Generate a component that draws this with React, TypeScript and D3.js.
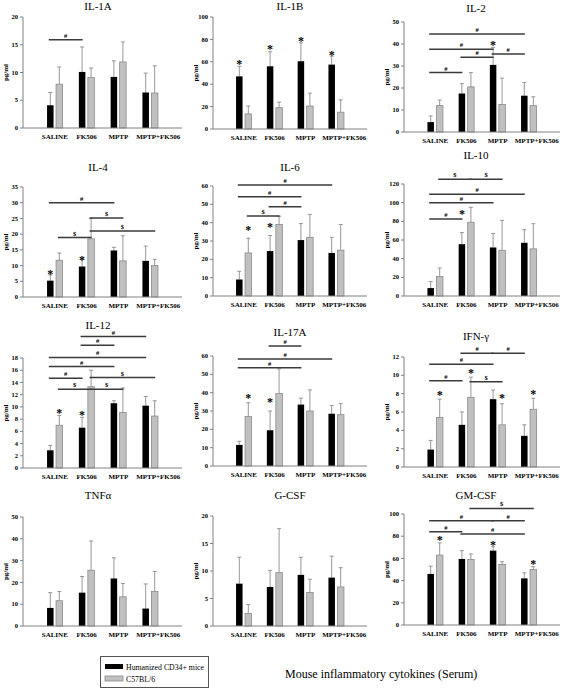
import React from 'react';
import * as d3 from 'd3';

const categories = ['SALINE', 'FK506', 'MPTP', 'MPTP+FK506'];
const seriesNames = ['Humanized CD34+ mice', 'C57BL/6'];

// IL-1A
const il1aHuman = [4.1, 10.1, 9.2, 6.4];
const il1aHumanUpper = [6.4, 14.6, 12.1, 9.9];
const il1aC57 = [7.9, 9.1, 11.9, 6.3];
const il1aC57Upper = [11.0, 10.8, 15.5, 11.2];
const il1aSig = [{ from: 0, to: 1, y: 15.9, sym: '#' }];
const il1aStars: { cat: number; s: number; y: number }[] = [];

// IL-1B
const il1bHuman = [47, 56, 60.5, 57.5];
const il1bHumanUpper = [56, 69, 77, 65];
const il1bC57 = [13.5, 19, 20.5, 15];
const il1bC57Upper = [20.5, 24, 32, 26];
const il1bSig: { from: number; to: number; y: number; sym: string }[] = [];
const il1bStars = [
  { cat: 0, s: 0, y: 60.4 }, { cat: 1, s: 0, y: 73.8 }, { cat: 2, s: 0, y: 80.4 }, { cat: 3, s: 0, y: 68.5 },
];

// IL-2
const il2Human = [4.5, 17.5, 30.5, 16.5];
const il2HumanUpper = [7.3, 22, 38.5, 22.5];
const il2C57 = [12, 20.5, 12.5, 12];
const il2C57Upper = [14.5, 27, 24.5, 16];
const il2Sig = [
  { from: 0, to: 3, y: 44.5, sym: '#' }, { from: 0, to: 2, y: 37.6, sym: '#' },
  { from: 1, to: 2, y: 34, sym: '#' }, { from: 2, to: 3, y: 35.5, sym: '#' },
  { from: 0, to: 1, y: 27, sym: '#' },
];
const il2Stars = [{ cat: 2, s: 0, y: 40.9 }];

// IL-4
const il4Human = [5.2, 9.7, 14.8, 11.5];
const il4HumanUpper = [7, 12, 15.8, 16.2];
const il4C57 = [11.7, 18.5, 11.5, 10];
const il4C57Upper = [14, 25, 19.5, 12];
const il4Sig = [
  { from: 0, to: 2, y: 30, sym: '#' }, { from: 0, to: 1, y: 18.9, sym: '$' },
  { from: 1, to: 2, y: 25.1, sym: '$' }, { from: 1, to: 3, y: 21, sym: '$' },
];
const il4Stars = [{ cat: 0, s: 0, y: 8 }, { cat: 1, s: 0, y: 12.5 }];

// IL-6
const il6Human = [9, 24.5, 30.5, 23.5];
const il6HumanUpper = [13.5, 33, 39.5, 32];
const il6C57 = [23.5, 39, 32, 25];
const il6C57Upper = [31.5, 43.5, 44.5, 39];
const il6Sig = [
  { from: 0, to: 3, y: 60.5, sym: '#' }, { from: 0, to: 2, y: 54.2, sym: '#' },
  { from: 1, to: 2, y: 48.7, sym: '#' }, { from: 0, to: 1, y: 43.6, sym: '$' },
];
const il6Stars = [{ cat: 0, s: 1, y: 37.3 }, { cat: 1, s: 0, y: 39.1 }];

// IL-10
const il10Human = [8.5, 55.5, 52, 57];
const il10HumanUpper = [15.5, 68, 67, 71];
const il10C57 = [21, 79, 49, 50.5];
const il10C57Upper = [30, 95, 81, 77.5];
const il10Sig = [
  { from: 0, to: 3, y: 108.9, sym: '#' }, { from: 0, to: 2, y: 100, sym: '#' },
  { from: 0, to: 1, y: 82.5, sym: '#' }, { from: 0, to: 1, y: 125, sym: '$' },
  { from: 1, to: 2, y: 125, sym: '$' },
];
const il10Stars = [{ cat: 1, s: 0, y: 90.4 }];

// IL-12
const il12Human = [2.9, 6.6, 10.6, 10.2];
const il12HumanUpper = [3.7, 8.3, 11, 11.7];
const il12C57 = [7, 13.3, 9.1, 8.5];
const il12C57Upper = [8.6, 16, 13.1, 11];
const il12Sig = [
  { from: 1, to: 3, y: 21.5, sym: '#' }, { from: 1, to: 2, y: 20.1, sym: '#' },
  { from: 0, to: 3, y: 18.1, sym: '#' }, { from: 0, to: 2, y: 16.6, sym: '#' },
  { from: 0, to: 1, y: 14.7, sym: '#' }, { from: 0, to: 1, y: 12.9, sym: '$' },
  { from: 1, to: 2, y: 12.9, sym: '$' }, { from: 1, to: 3, y: 14.8, sym: '$' },
];
const il12Stars = [{ cat: 0, s: 1, y: 9.4 }, { cat: 1, s: 0, y: 9.1 }];

// IL-17A
const il17aHuman = [11.5, 19.5, 33.5, 28.5];
const il17aHumanUpper = [13.5, 30, 37, 33];
const il17aC57 = [27, 39.5, 30, 28];
const il17aC57Upper = [34.5, 53, 41.5, 34];
const il17aSig = [
  { from: 1, to: 2, y: 65.5, sym: '#' }, { from: 0, to: 3, y: 58.4, sym: '#' },
  { from: 0, to: 2, y: 53.6, sym: '#' },
];
const il17aStars = [{ cat: 0, s: 1, y: 38.7 }, { cat: 1, s: 0, y: 36.4 }];

// IFN-γ
const ifngHuman = [1.9, 4.6, 7.4, 3.4];
const ifngHumanUpper = [2.9, 6, 8.4, 4.6];
const ifngC57 = [5.4, 7.6, 4.6, 6.3];
const ifngC57Upper = [7.4, 9.8, 6.9, 7.5];
const ifngSig = [
  { from: 1, to: 2, y: 12.4, sym: '#' }, { from: 2, to: 3, y: 12.4, sym: '#' },
  { from: 0, to: 2, y: 11.2, sym: '#' }, { from: 0, to: 1, y: 9.4, sym: '#' },
  { from: 1, to: 2, y: 9.3, sym: '$' },
];
const ifngStars = [
  { cat: 0, s: 1, y: 8.1 }, { cat: 1, s: 1, y: 10.5 }, { cat: 2, s: 1, y: 7.8 }, { cat: 3, s: 1, y: 8.2 },
];

// TNFα
const tnfHuman = [8.3, 15.3, 21.8, 8];
const tnfHumanUpper = [15.3, 22.7, 31.3, 19.3];
const tnfC57 = [11.6, 25.6, 13.4, 15.8];
const tnfC57Upper = [15.8, 39, 19.5, 25];
const tnfSig: { from: number; to: number; y: number; sym: string }[] = [];
const tnfStars: { cat: number; s: number; y: number }[] = [];

// G-CSF
const gcsfHuman = [7.7, 7.1, 9.3, 8.8];
const gcsfHumanUpper = [12.5, 10.1, 12.5, 12.7];
const gcsfC57 = [2.3, 9.7, 6.1, 7.1];
const gcsfC57Upper = [3.9, 17.7, 8.5, 10.6];
const gcsfSig: { from: number; to: number; y: number; sym: string }[] = [];
const gcsfStars: { cat: number; s: number; y: number }[] = [];

// GM-CSF
const gmcsfHuman = [46, 59.5, 67, 42];
const gmcsfHumanUpper = [53, 67, 70.5, 47];
const gmcsfC57 = [63, 59, 54.5, 50];
const gmcsfC57Upper = [74, 64, 57, 52.5];
const gmcsfSig = [
  { from: 1, to: 3, y: 105, sym: '$' },
  { from: 0, to: 2, y: 94, sym: '#' }, { from: 2, to: 3, y: 94, sym: '#' },
  { from: 0, to: 1, y: 84, sym: '#' }, { from: 1, to: 3, y: 82, sym: '#' },
];
const gmcsfStars = [{ cat: 0, s: 1, y: 79 }, { cat: 2, s: 0, y: 74.5 }, { cat: 3, s: 1, y: 57 }];

// layout (pixel geometry of each panel)
const colX = [[23, 182], [213, 367], [404, 560]];
const colTitleX = [98, 290, 476];

const panels = [
  { title: 'IL-1A', max: 20, step: 5, col: 0, yt: 17, yb: 128, ty: 10, h: il1aHuman, hu: il1aHumanUpper, c: il1aC57, cu: il1aC57Upper, sig: il1aSig, stars: il1aStars },
  { title: 'IL-1B', max: 100, step: 20, col: 1, yt: 17, yb: 129, ty: 10, h: il1bHuman, hu: il1bHumanUpper, c: il1bC57, cu: il1bC57Upper, sig: il1bSig, stars: il1bStars },
  { title: 'IL-2', max: 50, step: 10, col: 2, yt: 22, yb: 132, ty: 12, h: il2Human, hu: il2HumanUpper, c: il2C57, cu: il2C57Upper, sig: il2Sig, stars: il2Stars },
  { title: 'IL-4', max: 35, step: 5, col: 0, yt: 187, yb: 297, ty: 171, h: il4Human, hu: il4HumanUpper, c: il4C57, cu: il4C57Upper, sig: il4Sig, stars: il4Stars },
  { title: 'IL-6', max: 60, step: 10, col: 1, yt: 186, yb: 296, ty: 171, h: il6Human, hu: il6HumanUpper, c: il6C57, cu: il6C57Upper, sig: il6Sig, stars: il6Stars },
  { title: 'IL-10', max: 120, step: 20, col: 2, yt: 184, yb: 296, ty: 159, h: il10Human, hu: il10HumanUpper, c: il10C57, cu: il10C57Upper, sig: il10Sig, stars: il10Stars },
  { title: 'IL-12', max: 18, step: 2, col: 0, yt: 358, yb: 468, ty: 329, h: il12Human, hu: il12HumanUpper, c: il12C57, cu: il12C57Upper, sig: il12Sig, stars: il12Stars },
  { title: 'IL-17A', max: 60, step: 10, col: 1, yt: 356, yb: 466, ty: 335.5, h: il17aHuman, hu: il17aHumanUpper, c: il17aC57, cu: il17aC57Upper, sig: il17aSig, stars: il17aStars },
  { title: 'IFN-γ', max: 12, step: 2, col: 2, yt: 357, yb: 467, ty: 340, h: ifngHuman, hu: ifngHumanUpper, c: ifngC57, cu: ifngC57Upper, sig: ifngSig, stars: ifngStars },
  { title: 'TNFα', max: 50, step: 10, col: 0, yt: 517, yb: 626, ty: 499, h: tnfHuman, hu: tnfHumanUpper, c: tnfC57, cu: tnfC57Upper, sig: tnfSig, stars: tnfStars },
  { title: 'G-CSF', max: 20, step: 5, col: 1, yt: 516, yb: 626, ty: 499, h: gcsfHuman, hu: gcsfHumanUpper, c: gcsfC57, cu: gcsfC57Upper, sig: gcsfSig, stars: gcsfStars },
  { title: 'GM-CSF', max: 100, step: 20, col: 2, yt: 514, yb: 625, ty: 499, h: gmcsfHuman, hu: gmcsfHumanUpper, c: gmcsfC57, cu: gmcsfC57Upper, sig: gmcsfSig, stars: gmcsfStars },
];

const SERIF = '"Liberation Serif", "Times New Roman", serif';
const BAR_W = 6.5;
const OFF = 4.5;

function Panel({ p }: { p: any }) {
  const [x0, x1] = colX[p.col];
  const y = d3.scaleLinear().domain([0, p.max]).range([p.yb, p.yt]);
  const x = d3.scalePoint<string>().domain(['', ...categories]).range([x0, x0 + ((x1 - x0) / 5) * 4]);
  const cx = (i: number) => x(categories[i]) as number;
  const bx = (i: number, s: number) => cx(i) + (s === 0 ? -OFF : OFF);
  const ticks = d3.range(0, p.max + p.step / 2, p.step);
  const series = [
    { v: p.h, u: p.hu, fill: '#000000', stroke: '#000000' },
    { v: p.c, u: p.cu, fill: '#c0c0c0', stroke: '#8a8a8a' },
  ];
  return (
    <g>
      <text x={colTitleX[p.col]} y={p.ty} textAnchor="middle" fontFamily={SERIF} fontSize={11}>{p.title}</text>
      {series.map((s, si) =>
        categories.map((_, i) => (
          <g key={`e${si}-${i}`} stroke="#8c8c8c" strokeWidth={0.9}>
            <line x1={bx(i, si)} x2={bx(i, si)} y1={y(s.v[i])} y2={y(s.u[i])} />
            <line x1={bx(i, si) - 2} x2={bx(i, si) + 2} y1={y(s.u[i])} y2={y(s.u[i])} />
          </g>
        ))
      )}
      {series.map((s, si) =>
        categories.map((_, i) => (
          <rect key={`b${si}-${i}`} x={bx(i, si) - BAR_W / 2} y={y(s.v[i])} width={BAR_W} height={y(0) - y(s.v[i])}
            fill={s.fill} stroke={s.stroke} strokeWidth={si === 1 ? 0.8 : 0} />
        ))
      )}
      <line x1={x0} x2={x0} y1={y(p.max)} y2={y(0)} stroke="#808080" strokeWidth={1} />
      <line x1={x0} x2={x1} y1={y(0)} y2={y(0)} stroke="#808080" strokeWidth={1} />
      {ticks.map((t) => (
        <g key={t}>
          <line x1={x0 - 3} x2={x0} y1={y(t)} y2={y(t)} stroke="#808080" strokeWidth={1} />
          <text x={x0 - 5} y={y(t)} dy="0.33em" textAnchor="end" fontFamily={SERIF} fontSize={6.5} fontWeight="bold">{t}</text>
        </g>
      ))}
      <text transform={`translate(${x0 - 15},${(p.yt + p.yb) / 2}) rotate(-90)`} textAnchor="middle" fontFamily={SERIF} fontSize={7} fontWeight="bold">pg/ml</text>
      {categories.map((c, i) => (
        <text key={c} x={cx(i) + (i === 3 ? 8 : 0)} y={p.yb + 11} textAnchor="middle" fontFamily={SERIF} fontSize={7} fontWeight="bold">{c}</text>
      ))}
      {p.sig.map((s: any, k: number) => {
        const si = s.sym === '#' ? 0 : 1;
        const xa = bx(s.from, si) - 1.5;
        const xb = bx(s.to, si) + 0.5;
        return (
          <g key={`s${k}`}>
            <line x1={xa} x2={xb} y1={y(s.y)} y2={y(s.y)} stroke="#3a3a3a" strokeWidth={1.5} />
            <text x={(xa + xb) / 2} y={y(s.y) - 2} textAnchor="middle" fontFamily={SERIF} fontSize={6.5} fontWeight="bold">{s.sym}</text>
          </g>
        );
      })}
      {p.stars.map((s: any, k: number) => (
        <text key={`st${k}`} x={bx(s.cat, s.s)} y={y(s.y) + 6.5} textAnchor="middle" fontFamily={SERIF} fontSize={12} fontWeight="bold">*</text>
      ))}
    </g>
  );
}

export default function App() {
  return (
    <svg width={567} height={689} style={{ position: 'absolute', left: 0, top: 0, background: '#fff' }}>
      <rect x={0} y={0} width={567} height={689} fill="#fff" />
      {panels.map((p) => <Panel key={p.title} p={p} />)}
      <g>
        <rect x={100.5} y={656.5} width={108} height={31} fill="#fff" stroke="#555" strokeWidth={1} />
        <rect x={105} y={664} width={18} height={5} fill="#000" />
        <rect x={105} y={676} width={18} height={5} fill="#c0c0c0" stroke="#8a8a8a" strokeWidth={0.8} />
        <text x={126} y={669.5} fontFamily={SERIF} fontSize={7.8}>{seriesNames[0]}</text>
        <text x={126} y={681.5} fontFamily={SERIF} fontSize={7.8}>{seriesNames[1]}</text>
      </g>
      <text x={285} y={678} fontFamily={SERIF} fontSize={12}>Mouse inflammatory cytokines (Serum)</text>
    </svg>
  );
}
